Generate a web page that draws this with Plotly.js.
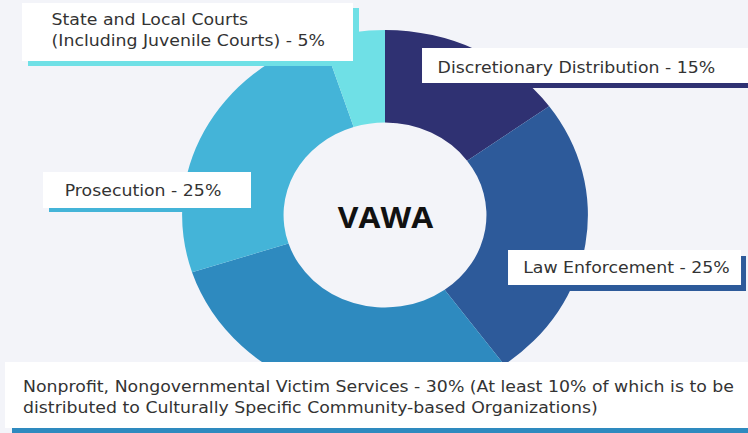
<!DOCTYPE html>
<html>
<head>
<meta charset="utf-8">
<script src="https://cdn.plot.ly/plotly-3.0.1.min.js"></script>
<style>
  html, body { margin: 0; padding: 0; background: #f3f4f9; overflow: hidden; }
  #wrap { width: 748px; height: 433px; overflow: hidden; }
  #chart { width: 682px; height: 433px; transform: scaleX(1.0968); transform-origin: 0 0; }
</style>
</head>
<body>
<div id="wrap"><div id="chart"></div></div>
<script>
// Data
const categories = [
  "Discretionary Distribution",
  "Law Enforcement",
  "Nonprofit, Nongovernmental Victim Services",
  "Prosecution",
  "State and Local Courts (Including Juvenile Courts)"
];
const shares = [15, 25, 30, 25, 5];
const sliceColors = ["#2f3172", "#2d5a9a", "#2e8abf", "#44b4d8", "#6fe0e6"];
const labelTexts = [
  "Discretionary Distribution - 15%",
  "Law Enforcement - 25%",
  "Nonprofit, Nongovernmental Victim Services - 30% (At least 10% of which is to be<br>distributed to Culturally Specific Community-based Organizations)",
  "Prosecution - 25%",
  "State and Local Courts<br>(Including Juvenile Courts) - 5%"
];
const centerTitle = "VAWA";

// Layout helpers: positions given in final picture pixels (748 x 433)
const W = 748, H = 433;
const px = x => x / W;
const py = y => 1 - y / H;

// label box geometry [whiteX0, whiteY0, whiteX1, whiteY1, offX, offY, textX, textY]
const boxes = [
  [422, 48, 760, 83, 6, 5, 435, 67],
  [508, 250, 741, 285, 5, 6, 521, 267],
  [5, 362, 760, 428, 7, 6, 21, 397],
  [43, 172, 251, 208, 6, 4, 62, 190],
  [22, 3, 353, 61, 6, 5, 49, 30]
];

const shapes = [];
const annotations = [];
boxes.forEach((b, i) => {
  shapes.push({type: "rect", xref: "paper", yref: "paper", layer: "above",
    x0: px(b[0] + b[4]), x1: px(b[2] + b[4]), y0: py(b[3] + b[5]), y1: py(b[1] + b[5]),
    fillcolor: sliceColors[i], line: {width: 0}});
  shapes.push({type: "rect", xref: "paper", yref: "paper", layer: "above",
    x0: px(b[0]), x1: px(b[2]), y0: py(b[3]), y1: py(b[1]),
    fillcolor: "#ffffff", line: {width: 0}});
  annotations.push({xref: "paper", yref: "paper", x: px(b[6]), y: py(b[7]),
    xanchor: "left", yanchor: "middle", align: "left", showarrow: false,
    text: labelTexts[i],
    font: {family: "DejaVu Sans, sans-serif", size: 15.8, color: "#333333"}});
});
annotations.push({xref: "paper", yref: "paper", x: px(386), y: py(216),
  xanchor: "center", yanchor: "middle", showarrow: false,
  text: "<b>" + centerTitle + "</b>",
  font: {family: "Open Sans, sans-serif", size: 29, color: "#111111"}});

const trace = {
  type: "pie",
  labels: categories,
  values: shares,
  hole: 0.5,
  sort: false,
  direction: "clockwise",
  rotation: 0,
  textinfo: "none",
  hoverinfo: "none",
  marker: {colors: sliceColors, line: {width: 0}},
  domain: {x: [0.2434, 0.786], y: [0.0762, 0.9307]},
  showlegend: false
};

const layout = {
  width: 682, height: 433,
  margin: {l: 0, r: 0, t: 0, b: 0},
  paper_bgcolor: "#f3f4f9",
  plot_bgcolor: "#f3f4f9",
  showlegend: false,
  shapes: shapes,
  annotations: annotations
};

Plotly.newPlot("chart", [trace], layout, {displayModeBar: false, staticPlot: true});
</script>
</body>
</html>
